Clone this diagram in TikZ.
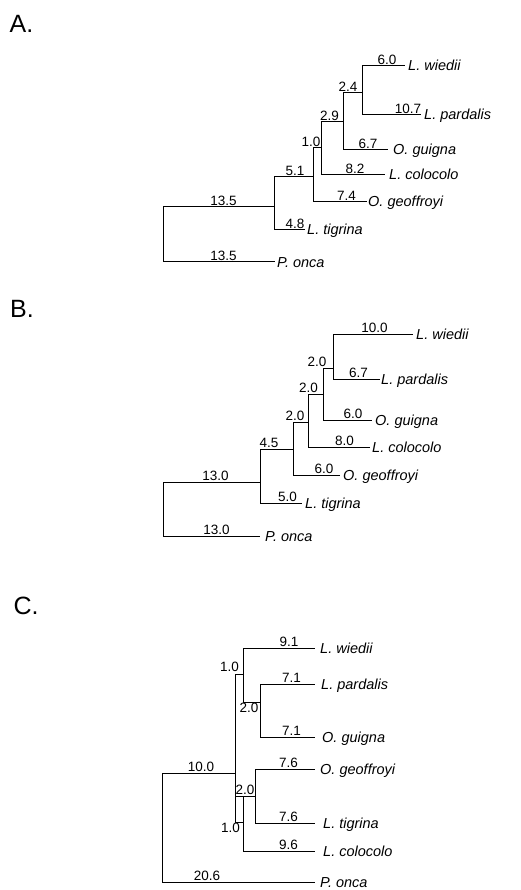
\documentclass[tikz,border=0pt]{standalone}
\usepackage{fontspec}
\setmainfont{Liberation Sans}
\begin{document}
\begin{tikzpicture}[x=1pt,y=-1pt,
  br/.style={line width=1pt},
  num/.style={font=\fontsize{13.5}{15}\selectfont, anchor=south, inner sep=1.2pt},
  numb/.style={font=\fontsize{13.5}{15}\selectfont, anchor=north, inner sep=1.2pt},
  sp/.style={font=\fontsize{14.5}{16}\selectfont\itshape, anchor=base west, inner sep=0pt, yshift=-5pt},
  lett/.style={font=\fontsize{25}{30}\selectfont, inner sep=0pt}]
\useasboundingbox (0,0) rectangle (521,890);

% ---------------- A ----------------
\node[lett] (LA) at (21.5,24) {A.};
\coordinate (Ar) at (163,207);
\coordinate (A1) at (274,207);
\coordinate (A2) at (313,177);
\coordinate (A3) at (321,148);
\coordinate (A4) at (343,122);
\coordinate (A5) at (362,93);
\coordinate (Atw) at (405,66);
\coordinate (Atp) at (421,115);
\coordinate (Atg) at (388,150);
\coordinate (Atc) at (385,175);
\coordinate (Ato) at (367,202);
\coordinate (Att) at (305,230);
\coordinate (Atn) at (275,262);
\draw[br] (Ar) |- (A1);
\draw[br] (Ar) |- (Atn);
\draw[br] (A1) |- (A2);
\draw[br] (A1) |- (Att);
\draw[br] (A2) |- (A3);
\draw[br] (A2) |- (Ato);
\draw[br] (A3) |- (A4);
\draw[br] (A3) |- (Atc);
\draw[br] (A4) |- (A5);
\draw[br] (A4) |- (Atg);
\draw[br] (A5) |- (Atw);
\draw[br] (A5) |- (Atp);
\node[sp] (Anw) at (408,66) {L. wiedii};
\node[sp] (Anp) at (424,115) {L. pardalis};
\node[sp] (Ang) at (393,150) {O. guigna};
\node[sp] (Anc) at (389,175) {L. colocolo};
\node[sp] (Ano) at (368,202) {O. geoffroyi};
\node[sp] (Ant) at (307,230) {L. tigrina};
\node[sp] (Ann) at (277,262) {P. onca};
\node[num] at (387,66) {6.0};
\node[num] at (408,115) {10.7};
\node[num] at (348,93) {2.4};
\node[num] at (329.5,122) {2.9};
\node[num] at (311,148) {1.0};
\node[num] at (368,150) {6.7};
\node[num] at (355,175) {8.2};
\node[num] at (295,177) {5.1};
\node[num] at (346.5,202) {7.4};
\node[num] at (223.5,207) {13.5};
\node[num] at (295,230) {4.8};
\node[num] at (223.5,262) {13.5};

% ---------------- B ----------------
\node[lett] (LB) at (22,309) {B.};
\coordinate (Br) at (163,482);
\coordinate (B1) at (260,482);
\coordinate (B2) at (293,449);
\coordinate (B3) at (308,422);
\coordinate (B4) at (323,394);
\coordinate (B5) at (333,368);
\coordinate (Btw) at (413,334);
\coordinate (Btp) at (380,379);
\coordinate (Btg) at (372,420);
\coordinate (Btc) at (370,447);
\coordinate (Bto) at (340,475);
\coordinate (Btt) at (302,503);
\coordinate (Btn) at (260,536);
\draw[br] (Br) |- (B1);
\draw[br] (Br) |- (Btn);
\draw[br] (B1) |- (B2);
\draw[br] (B1) |- (Btt);
\draw[br] (B2) |- (B3);
\draw[br] (B2) |- (Bto);
\draw[br] (B3) |- (B4);
\draw[br] (B3) |- (Btc);
\draw[br] (B4) |- (B5);
\draw[br] (B4) |- (Btg);
\draw[br] (B5) |- (Btw);
\draw[br] (B5) |- (Btp);
\node[sp] (Bnw) at (416,334) {L. wiedii};
\node[sp] (Bnp) at (381,379) {L. pardalis};
\node[sp] (Bng) at (375,420) {O. guigna};
\node[sp] (Bnc) at (372,447) {L. colocolo};
\node[sp] (Bno) at (343,475) {O. geoffroyi};
\node[sp] (Bnt) at (305,503) {L. tigrina};
\node[sp] (Bnn) at (265,536) {P. onca};
\node[num] at (374.5,334) {10.0};
\node[num] at (358.5,379) {6.7};
\node[num] at (317,368) {2.0};
\node[num] at (308.5,394) {2.0};
\node[num] at (353,420) {6.0};
\node[num] at (295,422) {2.0};
\node[num] at (344.5,447) {8.0};
\node[num] at (269,449) {4.5};
\node[num] at (324,475) {6.0};
\node[num] at (215.5,482) {13.0};
\node[num] at (287.5,503) {5.0};
\node[num] at (216.5,536) {13.0};

% ---------------- C ----------------
\node[lett] (LC) at (26,606) {C.};
\coordinate (Cr) at (162,773);
\coordinate (CX) at (235,773);
\coordinate (CU) at (243,674);
\coordinate (CZ) at (260,702);
\coordinate (CV) at (243,822);
\coordinate (CW) at (255,796);
\coordinate (Ctw) at (315,648);
\coordinate (Ctp) at (315,684);
\coordinate (Ctg) at (315,737);
\coordinate (Cto) at (315,769);
\coordinate (Ctt) at (315,823);
\coordinate (Ctc) at (315,851);
\coordinate (Ctn) at (315,882);
\draw[br] (Cr) |- (CX);
\draw[br] (Cr) |- (Ctn);
\draw[br] (CX) |- (CU);
\draw[br] (CX) |- (CV);
\draw[br] (CU) |- (Ctw);
\draw[br] (CU) |- (CZ);
\draw[br] (CZ) |- (Ctp);
\draw[br] (CZ) |- (Ctg);
\draw[br] (CV) |- (CW);
\draw[br] (CV) |- (Ctc);
\draw[br] (CW) |- (Cto);
\draw[br] (CW) |- (Ctt);
\draw[br] (CX |- CW) -- (CW);
\node[sp] (Cnw) at (320,648) {L. wiedii};
\node[sp] (Cnp) at (321,684) {L. pardalis};
\node[sp] (Cng) at (322,737) {O. guigna};
\node[sp] (Cno) at (320,769) {O. geoffroyi};
\node[sp] (Cnt) at (323,823) {L. tigrina};
\node[sp] (Cnc) at (323,851) {L. colocolo};
\node[sp] (Cnn) at (320,882) {P. onca};
\node[num] at (289,648) {9.1};
\node[num] at (229.5,673) {1.0};
\node[num] at (291.5,684) {7.1};
\node[numb] at (249,702) {2.0};
\node[num] at (291.5,737) {7.1};
\node[num] at (201,773) {10.0};
\node[num] at (288.5,769) {7.6};
\node[num] at (245,796) {2.0};
\node[num] at (288.5,823) {7.6};
\node[numb] at (230.5,822) {1.0};
\node[num] at (288.5,851) {9.6};
\node[num] at (207,882) {20.6};
\end{tikzpicture}
\end{document}
